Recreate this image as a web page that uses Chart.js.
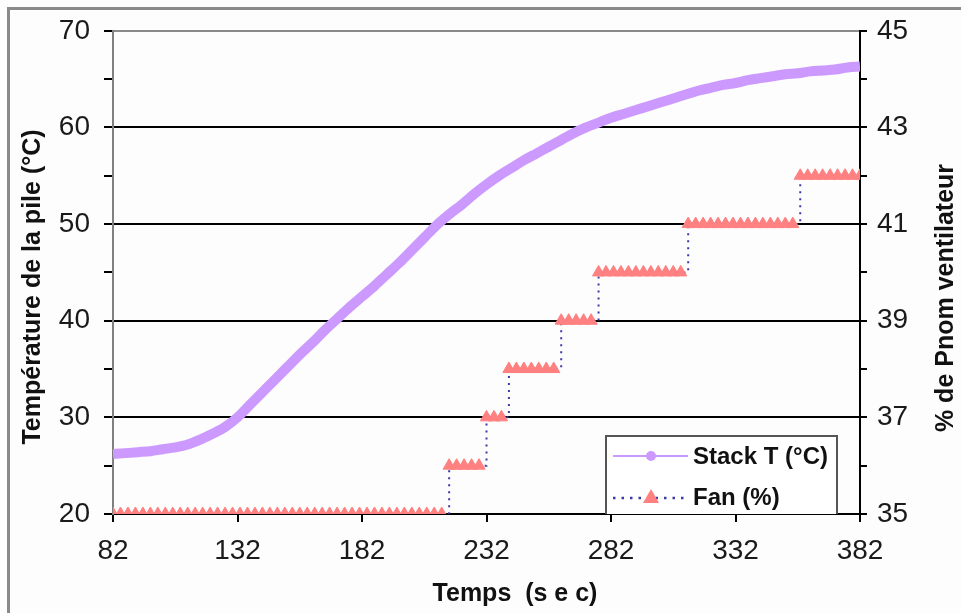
<!DOCTYPE html>
<html>
<head>
<meta charset="utf-8">
<script src="https://cdn.jsdelivr.net/npm/chart.js@4/dist/chart.umd.min.js"></script>
<style>
  html, body { margin: 0; padding: 0; background: #fdfdfd; }
  #wrap { position: relative; width: 961px; height: 613px; }
</style>
</head>
<body>
<div id="wrap"><canvas id="myChart"></canvas></div>
<script>
// Stack temperature, read every 5 s
const tempTime = [82, 87, 92, 97, 102, 107, 112, 117, 122, 127, 132, 137, 142, 147, 152, 157, 162, 167, 172, 177,
  182, 187, 192, 197, 202, 207, 212, 217, 222, 227, 232, 237, 242, 247, 252, 257, 262, 267, 272, 277,
  282, 287, 292, 297, 302, 307, 312, 317, 322, 327, 332, 337, 342, 347, 352, 357, 362, 367, 372, 377, 382];
const tempValues = [26.2, 26.3, 26.4, 26.5, 26.7, 26.9, 27.2, 27.7, 28.3, 29.0, 30.0, 31.3, 32.6, 33.9, 35.2, 36.5, 37.7, 39.0, 40.2, 41.4,
  42.5, 43.6, 44.8, 46.0, 47.3, 48.6, 49.9, 51.0, 52.0, 53.1, 54.1, 55.0, 55.8, 56.6, 57.3, 58.0, 58.7, 59.4, 60.0, 60.5,
  61.0, 61.4, 61.8, 62.2, 62.6, 63.0, 63.4, 63.8, 64.1, 64.4, 64.6, 64.9, 65.1, 65.3, 65.5, 65.6, 65.8, 65.9, 66.0, 66.2, 66.3];

// Fan command (% of Pnom), read every 3 s
const fanTime = [82, 85, 88, 91, 94, 97, 100, 103, 106, 109, 112, 115, 118, 121, 124, 127, 130, 133, 136, 139,
  142, 145, 148, 151, 154, 157, 160, 163, 166, 169, 172, 175, 178, 181, 184, 187, 190, 193, 196, 199,
  202, 205, 208, 211, 214, 217, 220, 223, 226, 229, 232, 235, 238, 241, 244, 247, 250, 253, 256, 259,
  262, 265, 268, 271, 274, 277, 280, 283, 286, 289, 292, 295, 298, 301, 304, 307, 310, 313, 316, 319,
  322, 325, 328, 331, 334, 337, 340, 343, 346, 349, 352, 355, 358, 361, 364, 367, 370, 373, 376, 379, 382];
const fanValues = [35, 35, 35, 35, 35, 35, 35, 35, 35, 35, 35, 35, 35, 35, 35, 35, 35, 35, 35, 35,
  35, 35, 35, 35, 35, 35, 35, 35, 35, 35, 35, 35, 35, 35, 35, 35, 35, 35, 35, 35,
  35, 35, 35, 35, 35, 36, 36, 36, 36, 36, 37, 37, 37, 38, 38, 38, 38, 38, 38, 38,
  39, 39, 39, 39, 39, 40, 40, 40, 40, 40, 40, 40, 40, 40, 40, 40, 40, 41, 41, 41,
  41, 41, 41, 41, 41, 41, 41, 41, 41, 41, 41, 41, 42, 42, 42, 42, 42, 42, 42, 42, 42];

const xTicks = [82, 132, 182, 232, 282, 332, 382];
const yTicks = [20, 25, 30, 35, 40, 45, 50, 55, 60, 65, 70];
const y1Ticks = [35, 36, 37, 38, 39, 40, 41, 42, 43, 44, 45];

const seriesNames = ['Stack T (°C)', 'Fan (%)'];
const xTitle = 'Temps  (s e c)';
const yTitle = 'Température de la pile (°C)';
const y1Title = '% de Pnom ventilateur';

const purple = '#cc99ff';
const pink = '#ff8080';
const navy = '#3a3aa8';
const tickFont = { family: "'Liberation Sans Narrow', 'Arial Narrow', 'Liberation Sans', sans-serif", size: 28 };
const boldFont = "bold 25px 'Liberation Sans', Arial, sans-serif";

// frame, axis titles and legend box
const decor = {
  id: 'decor',
  beforeDraw(chart) {
    const ctx = chart.ctx;
    ctx.save();
    ctx.fillStyle = '#fdfdfd';
    ctx.fillRect(0, 0, chart.width, chart.height);
    ctx.strokeStyle = '#8a8a8a';
    ctx.lineWidth = 3;
    ctx.beginPath();
    ctx.moveTo(8.5, chart.height);
    ctx.lineTo(8.5, 8.5);
    ctx.lineTo(chart.width, 8.5);
    ctx.stroke();
    ctx.restore();
  },
  afterDraw(chart) {
    const ctx = chart.ctx;
    ctx.save();
    ctx.fillStyle = '#111';
    ctx.font = boldFont;
    ctx.textAlign = 'center';
    ctx.textBaseline = 'middle';
    ctx.fillText(xTitle, 515, 594);

    ctx.save();
    ctx.translate(33, 287);
    ctx.rotate(-Math.PI / 2);
    ctx.fillText(yTitle, 0, 0);
    ctx.restore();

    ctx.save();
    ctx.translate(946, 298);
    ctx.rotate(-Math.PI / 2);
    ctx.fillText(y1Title, 0, 0);
    ctx.restore();

    // legend
    ctx.fillStyle = '#ffffff';
    ctx.fillRect(605, 435, 233, 79);
    ctx.strokeStyle = '#555';
    ctx.lineWidth = 2;
    ctx.beginPath();
    ctx.moveTo(606, 514);
    ctx.lineTo(606, 436);
    ctx.lineTo(837, 436);
    ctx.lineTo(837, 514);
    ctx.stroke();

    ctx.strokeStyle = purple;
    ctx.lineWidth = 2;
    ctx.beginPath();
    ctx.moveTo(613, 456);
    ctx.lineTo(688, 456);
    ctx.stroke();
    ctx.fillStyle = purple;
    ctx.beginPath();
    ctx.arc(651, 456, 5, 0, Math.PI * 2);
    ctx.fill();

    ctx.strokeStyle = navy;
    ctx.lineWidth = 2.5;
    ctx.setLineDash([2.5, 6]);
    ctx.beginPath();
    ctx.moveTo(613, 498);
    ctx.lineTo(688, 498);
    ctx.stroke();
    ctx.setLineDash([]);
    ctx.fillStyle = pink;
    ctx.beginPath();
    ctx.moveTo(651, 489);
    ctx.lineTo(659, 503);
    ctx.lineTo(643, 503);
    ctx.closePath();
    ctx.fill();

    ctx.fillStyle = '#111';
    ctx.font = "bold 24px 'Liberation Sans', Arial, sans-serif";
    ctx.textAlign = 'left';
    ctx.fillText(seriesNames[0], 693, 457);
    ctx.fillText(seriesNames[1], 693, 498);
    ctx.restore();
  }
};

const data = {
  datasets: [{
    label: seriesNames[0],
    data: tempTime.map((t, i) => ({ x: t, y: tempValues[i] })),
    yAxisID: 'y',
    borderColor: purple,
    backgroundColor: purple,
    borderWidth: 10,
    pointRadius: 0,
    cubicInterpolationMode: 'monotone'
  },
  {
    label: seriesNames[1],
    data: fanTime.map((t, i) => ({ x: t, y: fanValues[i] })),
    yAxisID: 'y1',
    stepped: true,
    borderColor: navy,
    borderWidth: 2,
    borderDash: [2, 5],
    pointStyle: 'triangle',
    pointRadius: 7,
    pointBackgroundColor: pink,
    pointBorderColor: pink,
    pointBorderWidth: 1
  }]
};

const config = {
  type: 'line',
  data,
  plugins: [decor],
  options: {
    responsive: true,
    maintainAspectRatio: false,
    animation: false,
    layout: { padding: { top: 29, left: 0, right: 0, bottom: 0 } },
    plugins: { legend: { display: false }, tooltip: { enabled: false } },
    scales: {
      x: {
        type: 'linear',
        position: 'bottom',
        min: 82,
        max: 382,
        afterBuildTicks: s => { s.ticks = xTicks.map(v => ({ value: v })); },
        afterFit: s => { s.height = 99; },
        ticks: { font: tickFont, color: '#1a1a1a', padding: 12, maxRotation: 0 },
        grid: { drawOnChartArea: false, tickLength: 8, tickColor: '#000', lineWidth: 2 },
        border: { color: '#000', width: 2 }
      },
      y: {
        position: 'left',
        min: 20,
        max: 70,
        afterBuildTicks: s => { s.ticks = yTicks.map(v => ({ value: v })); },
        afterFit: s => { s.width = 113; },
        ticks: {
          font: tickFont, color: '#1a1a1a', padding: 14,
          callback: v => (v % 10 === 0 ? v : '')
        },
        grid: {
          tickLength: 9,
          lineWidth: 2,
          tickColor: '#000',
          color: c => (c.tick.value === 70 ? '#8a8a8a' : (c.tick.value % 10 === 0 ? '#000' : 'rgba(0,0,0,0)'))
        },
        border: { color: '#808080', width: 2 }
      },
      y1: {
        position: 'right',
        min: 35,
        max: 45,
        afterBuildTicks: s => { s.ticks = y1Ticks.map(v => ({ value: v })); },
        afterFit: s => { s.width = 101; },
        ticks: {
          font: tickFont, color: '#1a1a1a', padding: 10,
          callback: v => (v % 2 === 1 ? v : '')
        },
        grid: { drawOnChartArea: false, tickLength: 7, tickColor: '#000', lineWidth: 2 },
        border: { color: '#000', width: 2 }
      }
    }
  }
};

const myChart = new Chart(document.getElementById('myChart'), config);
</script>
</body>
</html>
